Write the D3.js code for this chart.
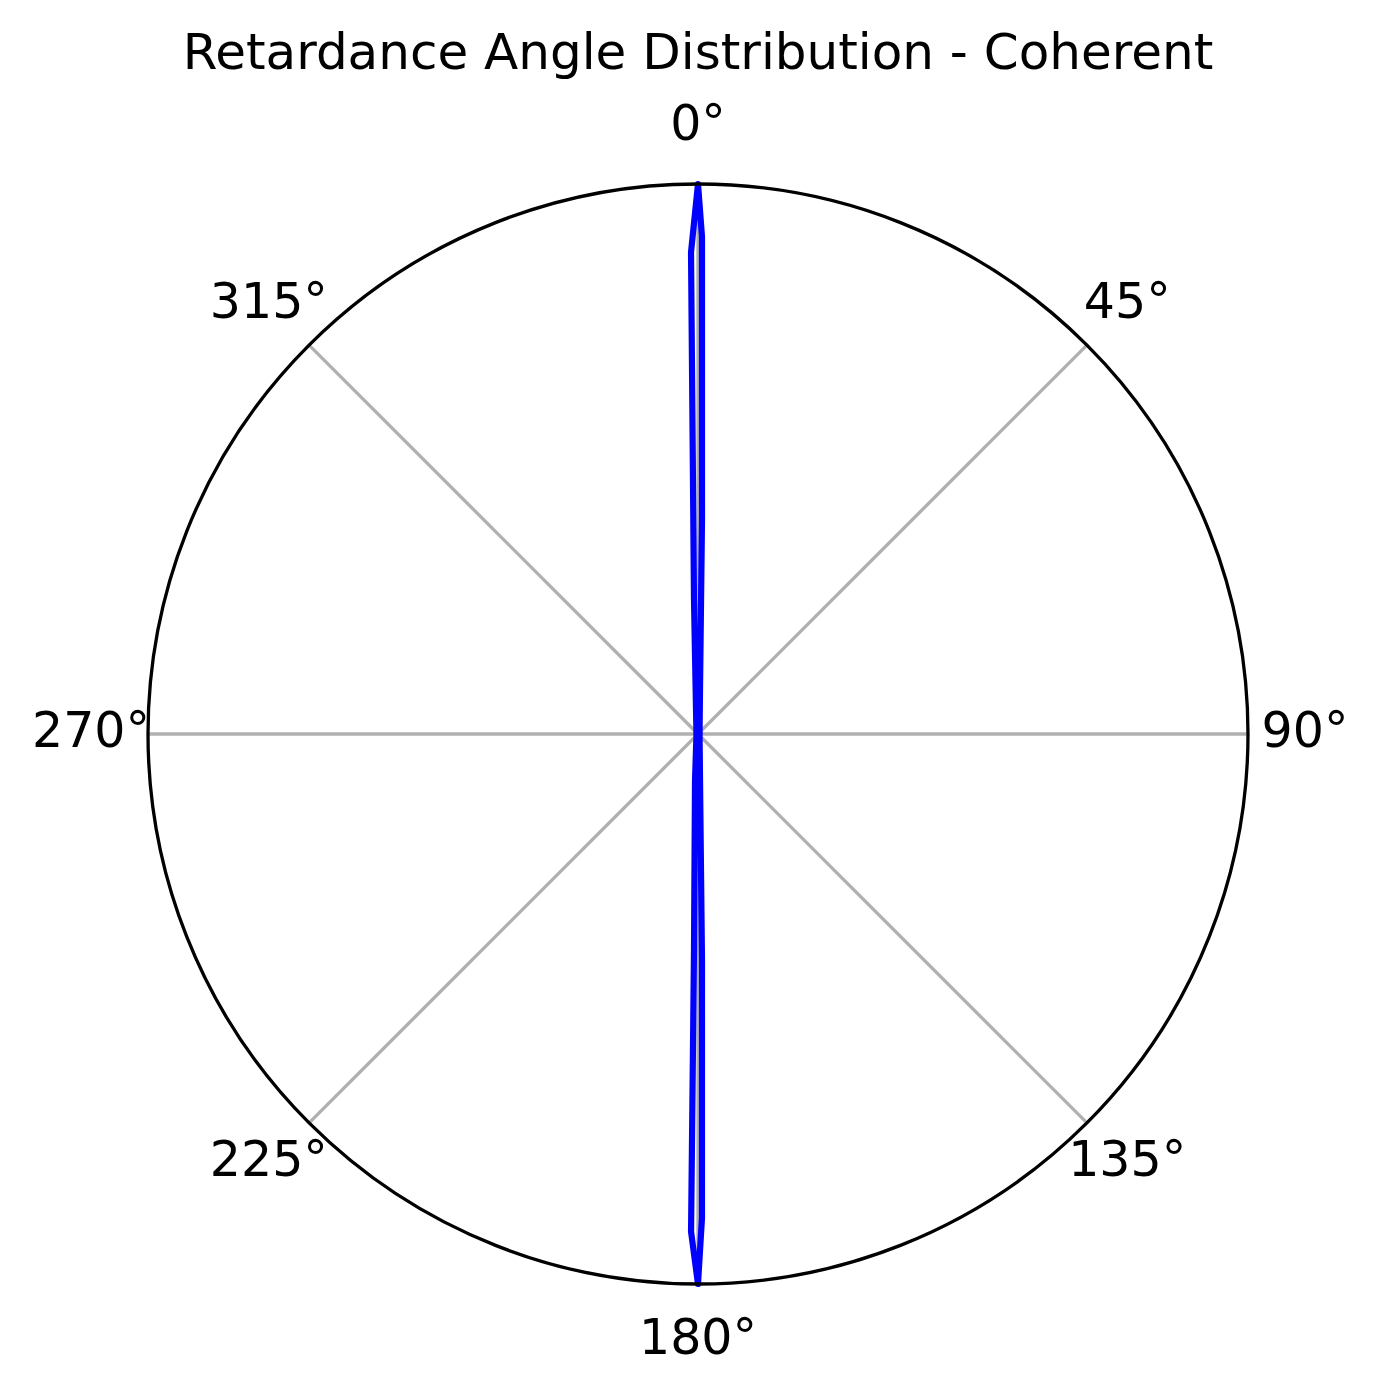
<!DOCTYPE html>
<html>
<head>
<meta charset="utf-8">
<script src="https://cdn.jsdelivr.net/npm/d3@7/dist/d3.min.js"></script>
<style>
  html, body { margin: 0; padding: 0; background: #ffffff; }
  svg { display: block; }
</style>
</head>
<body>
<div id="chart"></div>
<script>
// ---- Data ----
const chartTitle = "Retardance Angle Distribution - Coherent";
// Angle (degrees, clockwise from North) of each plotted sample
const angleDeg = [0, 0.46, 1.07, 2.6, 45, 90, 135, 177.4, 178.99, 179.53, 180,
                  180.8, 181.06, 183.7, 225, 270, 315, 358.29, 359.17];
// Relative frequency (normalised to the peak) at each angle
const density = [1.0, 0.904, 0.389, 0.08, 0.004, 0.003, 0.004, 0.08, 0.411, 0.88, 1.0,
                 0.905, 0.393, 0.084, 0.004, 0.003, 0.004, 0.244, 0.876];
// Angular tick positions and labels
const thetaTicks = [0, 45, 90, 135, 180, 225, 270, 315];
const thetaTickLabels = ["0°", "45°", "90°", "135°", "180°", "225°", "270°", "315°"];

// ---- Layout ----
const W = 1381, H = 1397;
const cx = 698, cy = 734, R = 550;
const labelPad = 57;
const tickFont = 49, titleFont = 50;

const svg = d3.select("#chart").append("svg")
  .attr("width", W).attr("height", H)
  .style("font-family", "'DejaVu Sans', sans-serif");

svg.append("rect").attr("width", W).attr("height", H).attr("fill", "#ffffff");

const g = svg.append("g").attr("transform", `translate(${cx},${cy})`);

const theta = d3.scaleLinear().domain([0, 360]).range([0, 2 * Math.PI]);
const r = d3.scaleLinear().domain([0, d3.max(density)]).range([0, R]);

// gridlines (spokes)
g.selectAll("line.grid").data(thetaTicks).join("line")
  .attr("class", "grid")
  .attr("x1", 0).attr("y1", 0)
  .attr("x2", d => R * Math.sin(theta(d)))
  .attr("y2", d => -R * Math.cos(theta(d)))
  .attr("stroke", "#b0b0b0").attr("stroke-width", 3.3);

// data line
const pts = angleDeg.map((a, i) => [theta(a), r(density[i])]);
const radial = d3.lineRadial().curve(d3.curveLinearClosed);
g.append("path")
  .attr("d", radial(pts))
  .attr("fill", "none")
  .attr("stroke", "#0000ff")
  .attr("stroke-width", 6.2)
  .attr("stroke-linejoin", "round")
  .attr("stroke-linecap", "round");

// outer spine
g.append("circle").attr("r", R)
  .attr("fill", "none").attr("stroke", "#000000").attr("stroke-width", 3.3);

// tick labels
g.selectAll("text.tick").data(thetaTicks).join("text")
  .attr("class", "tick")
  .attr("x", d => (R + labelPad) * Math.sin(theta(d)))
  .attr("y", d => -(R + labelPad) * Math.cos(theta(d)) + 0.262 * tickFont)
  .attr("text-anchor", "middle")
  .attr("font-size", tickFont)
  .attr("fill", "#000000")
  .text((d, i) => thetaTickLabels[i]);

// title
svg.append("text")
  .attr("x", cx).attr("y", 69)
  .attr("text-anchor", "middle")
  .attr("font-size", titleFont)
  .attr("fill", "#000000")
  .text(chartTitle);
</script>
</body>
</html>
